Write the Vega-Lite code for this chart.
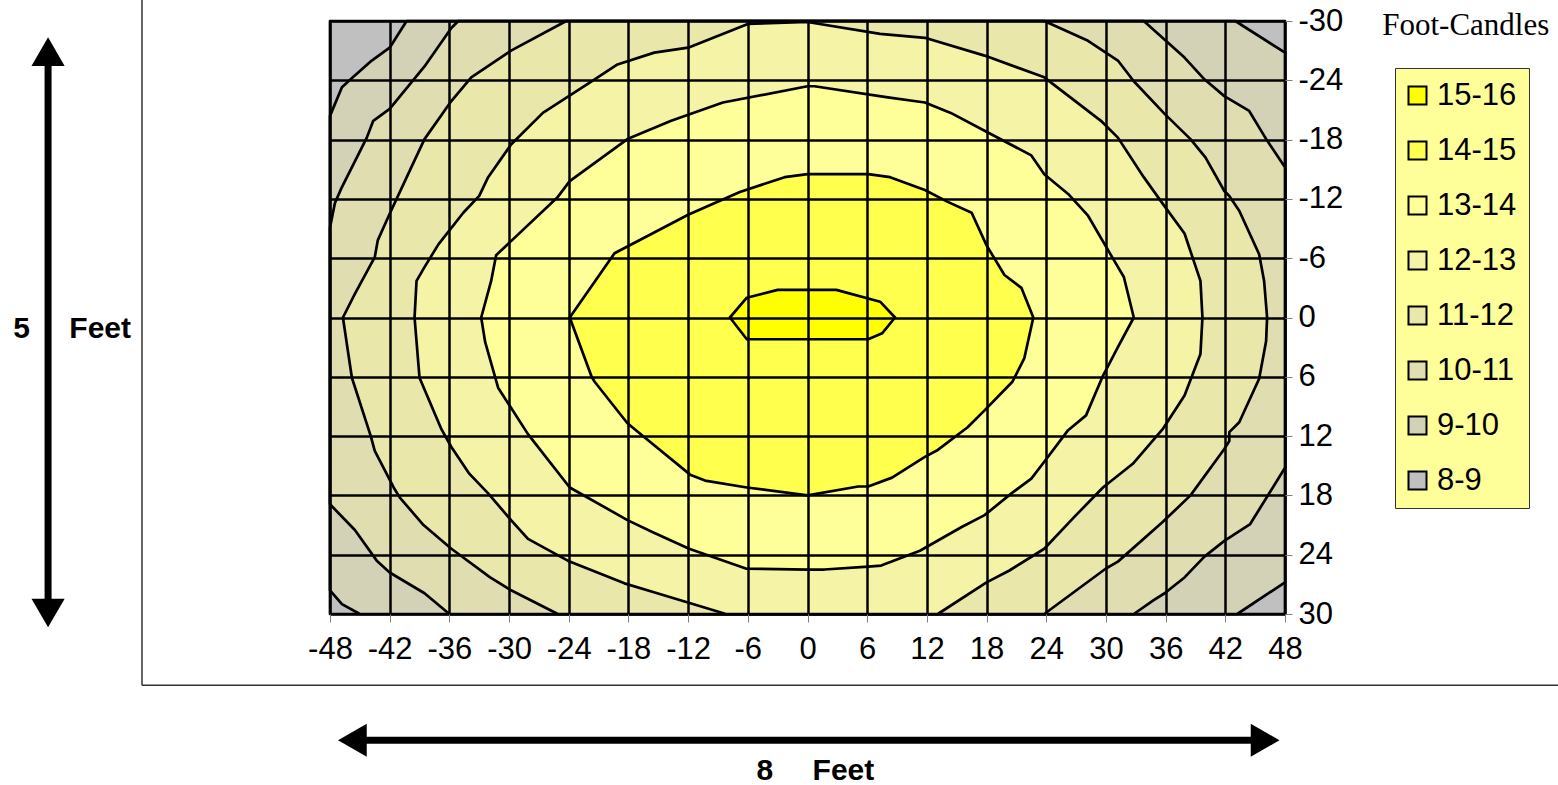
{
  "$schema": "https://vega.github.io/schema/vega-lite/v6.json",
  "width": 955,
  "height": 593,
  "autosize": {"type": "none"},
  "padding": {"left": 330, "top": 21, "right": 273, "bottom": 171},
  "background": "white",
  "config": {"view": {"stroke": null}},
  "datasets": {
    "contours": [
      {"band": "8-9", "o": 1, "x": -48, "y": -30}, {"band": "8-9", "o": 2, "x": 48, "y": -30}, {"band": "8-9", "o": 3, "x": 48, "y": 30}, {"band": "8-9", "o": 4, "x": -48, "y": 30},

      {"band": "9-10", "o": 1, "x": -40.3, "y": -30}, {"band": "9-10", "o": 2, "x": 43.0, "y": -30}, {"band": "9-10", "o": 3, "x": 48, "y": -26.8}, {"band": "9-10", "o": 4, "x": 48, "y": 26.8}, {"band": "9-10", "o": 5, "x": 43.2, "y": 30}, {"band": "9-10", "o": 6, "x": -45, "y": 30}, {"band": "9-10", "o": 7, "x": -46.8, "y": 29.0}, {"band": "9-10", "o": 8, "x": -48, "y": 27.6}, {"band": "9-10", "o": 9, "x": -48, "y": -20.4}, {"band": "9-10", "o": 10, "x": -46.8, "y": -23.3}, {"band": "9-10", "o": 11, "x": -45.7, "y": -24.3}, {"band": "9-10", "o": 12, "x": -43.8, "y": -26.0}, {"band": "9-10", "o": 13, "x": -42.0, "y": -27.3},

      {"band": "10-11", "o": 1, "x": -35.1, "y": -30}, {"band": "10-11", "o": 2, "x": 33.8, "y": -30}, {"band": "10-11", "o": 3, "x": 37.9, "y": -26.3}, {"band": "10-11", "o": 4, "x": 39.9, "y": -24.1}, {"band": "10-11", "o": 5, "x": 41.9, "y": -22.4}, {"band": "10-11", "o": 6, "x": 44.4, "y": -20.9}, {"band": "10-11", "o": 7, "x": 46.2, "y": -17.9}, {"band": "10-11", "o": 8, "x": 48, "y": -15.2}, {"band": "10-11", "o": 9, "x": 48, "y": 15.2}, {"band": "10-11", "o": 10, "x": 46.4, "y": 17.8}, {"band": "10-11", "o": 11, "x": 44.5, "y": 20.9}, {"band": "10-11", "o": 12, "x": 41.9, "y": 22.6}, {"band": "10-11", "o": 13, "x": 39.9, "y": 24.2}, {"band": "10-11", "o": 14, "x": 37.9, "y": 26.3}, {"band": "10-11", "o": 15, "x": 35.9, "y": 27.9}, {"band": "10-11", "o": 16, "x": 34.8, "y": 28.6}, {"band": "10-11", "o": 17, "x": 32.8, "y": 30}, {"band": "10-11", "o": 18, "x": -36, "y": 30}, {"band": "10-11", "o": 19, "x": -38.5, "y": 27.9}, {"band": "10-11", "o": 20, "x": -42.0, "y": 25.8}, {"band": "10-11", "o": 21, "x": -43.3, "y": 24.6}, {"band": "10-11", "o": 22, "x": -45.5, "y": 21.5}, {"band": "10-11", "o": 23, "x": -48, "y": 18.9}, {"band": "10-11", "o": 24, "x": -48, "y": -9.1}, {"band": "10-11", "o": 25, "x": -47.5, "y": -11.6}, {"band": "10-11", "o": 26, "x": -46.8, "y": -13.2}, {"band": "10-11", "o": 27, "x": -44.3, "y": -18.2}, {"band": "10-11", "o": 28, "x": -43.65, "y": -19.9}, {"band": "10-11", "o": 29, "x": -42.0, "y": -21.1}, {"band": "10-11", "o": 30, "x": -38.5, "y": -25.4}, {"band": "10-11", "o": 31, "x": -35.8, "y": -29.3},

      {"band": "11-12", "o": 1, "x": -24.25, "y": -30}, {"band": "11-12", "o": 2, "x": 23.8, "y": -30}, {"band": "11-12", "o": 3, "x": 28.2, "y": -28.0}, {"band": "11-12", "o": 4, "x": 31.2, "y": -26.0}, {"band": "11-12", "o": 5, "x": 32.8, "y": -23.9}, {"band": "11-12", "o": 6, "x": 35.9, "y": -20.6}, {"band": "11-12", "o": 7, "x": 38.5, "y": -18.05}, {"band": "11-12", "o": 8, "x": 40.0, "y": -16.2}, {"band": "11-12", "o": 9, "x": 41.9, "y": -12.8}, {"band": "11-12", "o": 10, "x": 42.4, "y": -12.3}, {"band": "11-12", "o": 11, "x": 43.4, "y": -10.8}, {"band": "11-12", "o": 12, "x": 45.4, "y": -6.4}, {"band": "11-12", "o": 13, "x": 45.9, "y": -3.7}, {"band": "11-12", "o": 14, "x": 46.2, "y": 0}, {"band": "11-12", "o": 15, "x": 46.1, "y": 2.4}, {"band": "11-12", "o": 16, "x": 45.4, "y": 6.2}, {"band": "11-12", "o": 17, "x": 43.4, "y": 10.6}, {"band": "11-12", "o": 18, "x": 42.4, "y": 11.6}, {"band": "11-12", "o": 19, "x": 42.4, "y": 12.5}, {"band": "11-12", "o": 20, "x": 41.9, "y": 13.3}, {"band": "11-12", "o": 21, "x": 38.5, "y": 18.0}, {"band": "11-12", "o": 22, "x": 35.7, "y": 20.7}, {"band": "11-12", "o": 23, "x": 31.2, "y": 24.7}, {"band": "11-12", "o": 24, "x": 30.0, "y": 25.4}, {"band": "11-12", "o": 25, "x": 23.8, "y": 30}, {"band": "11-12", "o": 26, "x": -25.1, "y": 30}, {"band": "11-12", "o": 27, "x": -29.8, "y": 27.6}, {"band": "11-12", "o": 28, "x": -31.9, "y": 26.3}, {"band": "11-12", "o": 29, "x": -35.8, "y": 23.4}, {"band": "11-12", "o": 30, "x": -38.6, "y": 21.0}, {"band": "11-12", "o": 31, "x": -41.0, "y": 18.2}, {"band": "11-12", "o": 32, "x": -41.6, "y": 17.2}, {"band": "11-12", "o": 33, "x": -43.5, "y": 13.5}, {"band": "11-12", "o": 34, "x": -43.9, "y": 12.0}, {"band": "11-12", "o": 35, "x": -45.8, "y": 6.1}, {"band": "11-12", "o": 36, "x": -46.7, "y": 0}, {"band": "11-12", "o": 37, "x": -45.5, "y": -2.4}, {"band": "11-12", "o": 38, "x": -43.5, "y": -6.1}, {"band": "11-12", "o": 39, "x": -43.2, "y": -7.8}, {"band": "11-12", "o": 40, "x": -42.0, "y": -10.5}, {"band": "11-12", "o": 41, "x": -39.5, "y": -15.9}, {"band": "11-12", "o": 42, "x": -38.5, "y": -18.05}, {"band": "11-12", "o": 43, "x": -35.8, "y": -21.9}, {"band": "11-12", "o": 44, "x": -33.8, "y": -24.3}, {"band": "11-12", "o": 45, "x": -29.8, "y": -27.0},

      {"band": "12-13", "o": 1, "x": 0, "y": -29.9}, {"band": "12-13", "o": 2, "x": 7.3, "y": -28.7}, {"band": "12-13", "o": 3, "x": 11.8, "y": -28.3}, {"band": "12-13", "o": 4, "x": 17.8, "y": -26.5}, {"band": "12-13", "o": 5, "x": 23.8, "y": -24.3}, {"band": "12-13", "o": 6, "x": 29.5, "y": -19.9}, {"band": "12-13", "o": 7, "x": 31.2, "y": -18.2}, {"band": "12-13", "o": 8, "x": 33.8, "y": -14.2}, {"band": "12-13", "o": 9, "x": 35.5, "y": -11.8}, {"band": "12-13", "o": 10, "x": 37.9, "y": -8.5}, {"band": "12-13", "o": 11, "x": 39.5, "y": -3.7}, {"band": "12-13", "o": 12, "x": 39.7, "y": 0}, {"band": "12-13", "o": 13, "x": 39.5, "y": 3.7}, {"band": "12-13", "o": 14, "x": 37.9, "y": 7.9}, {"band": "12-13", "o": 15, "x": 35.7, "y": 11.3}, {"band": "12-13", "o": 16, "x": 32.7, "y": 14.8}, {"band": "12-13", "o": 17, "x": 29.7, "y": 17.2}, {"band": "12-13", "o": 18, "x": 26.8, "y": 20.2}, {"band": "12-13", "o": 19, "x": 23.8, "y": 23.4}, {"band": "12-13", "o": 20, "x": 20.3, "y": 25.6}, {"band": "12-13", "o": 21, "x": 18.0, "y": 26.8}, {"band": "12-13", "o": 22, "x": 13.1, "y": 30}, {"band": "12-13", "o": 23, "x": -8.2, "y": 30}, {"band": "12-13", "o": 24, "x": -15.1, "y": 27.9}, {"band": "12-13", "o": 25, "x": -18.4, "y": 26.9}, {"band": "12-13", "o": 26, "x": -24.1, "y": 24.6}, {"band": "12-13", "o": 27, "x": -28.1, "y": 22.4}, {"band": "12-13", "o": 28, "x": -29.8, "y": 20.5}, {"band": "12-13", "o": 29, "x": -32.1, "y": 17.8}, {"band": "12-13", "o": 30, "x": -34.0, "y": 15.8}, {"band": "12-13", "o": 31, "x": -35.8, "y": 13.1}, {"band": "12-13", "o": 32, "x": -36.8, "y": 11.3}, {"band": "12-13", "o": 33, "x": -39.0, "y": 6.1}, {"band": "12-13", "o": 34, "x": -39.5, "y": 0}, {"band": "12-13", "o": 35, "x": -39.3, "y": -3.7}, {"band": "12-13", "o": 36, "x": -38.5, "y": -5.1}, {"band": "12-13", "o": 37, "x": -37.1, "y": -7.4}, {"band": "12-13", "o": 38, "x": -34.6, "y": -10.6}, {"band": "12-13", "o": 39, "x": -33.0, "y": -12.3}, {"band": "12-13", "o": 40, "x": -32.1, "y": -14.2}, {"band": "12-13", "o": 41, "x": -29.8, "y": -17.5}, {"band": "12-13", "o": 42, "x": -26.6, "y": -20.7}, {"band": "12-13", "o": 43, "x": -21.7, "y": -23.9}, {"band": "12-13", "o": 44, "x": -19.1, "y": -25.6}, {"band": "12-13", "o": 45, "x": -15.4, "y": -26.8}, {"band": "12-13", "o": 46, "x": -12.0, "y": -27.3}, {"band": "12-13", "o": 47, "x": -6.0, "y": -29.7},

      {"band": "13-14", "o": 1, "x": 0, "y": -23.4}, {"band": "13-14", "o": 2, "x": 0.7, "y": -23.4}, {"band": "13-14", "o": 3, "x": 7.9, "y": -22.3}, {"band": "13-14", "o": 4, "x": 11.8, "y": -21.75}, {"band": "13-14", "o": 5, "x": 14.4, "y": -20.7}, {"band": "13-14", "o": 6, "x": 17.8, "y": -18.9}, {"band": "13-14", "o": 7, "x": 22.5, "y": -16.4}, {"band": "13-14", "o": 8, "x": 23.8, "y": -14.5}, {"band": "13-14", "o": 9, "x": 26.2, "y": -12.5}, {"band": "13-14", "o": 10, "x": 28.2, "y": -10.3}, {"band": "13-14", "o": 11, "x": 30.8, "y": -5.8}, {"band": "13-14", "o": 12, "x": 31.8, "y": -4.1}, {"band": "13-14", "o": 13, "x": 32.8, "y": 0}, {"band": "13-14", "o": 14, "x": 31.2, "y": 3.0}, {"band": "13-14", "o": 15, "x": 29.7, "y": 5.9}, {"band": "13-14", "o": 16, "x": 28.0, "y": 9.9}, {"band": "13-14", "o": 17, "x": 26.2, "y": 11.4}, {"band": "13-14", "o": 18, "x": 23.8, "y": 14.6}, {"band": "13-14", "o": 19, "x": 22.5, "y": 16.3}, {"band": "13-14", "o": 20, "x": 20.5, "y": 17.8}, {"band": "13-14", "o": 21, "x": 17.8, "y": 20.0}, {"band": "13-14", "o": 22, "x": 15.5, "y": 21.2}, {"band": "13-14", "o": 23, "x": 11.3, "y": 23.6}, {"band": "13-14", "o": 24, "x": 7.4, "y": 25.1}, {"band": "13-14", "o": 25, "x": 6.1, "y": 25.2}, {"band": "13-14", "o": 26, "x": 1.7, "y": 25.5}, {"band": "13-14", "o": 27, "x": 0, "y": 25.5}, {"band": "13-14", "o": 28, "x": -6.2, "y": 25.4}, {"band": "13-14", "o": 29, "x": -11.9, "y": 23.4}, {"band": "13-14", "o": 30, "x": -15.6, "y": 21.7}, {"band": "13-14", "o": 31, "x": -18.1, "y": 20.5}, {"band": "13-14", "o": 32, "x": -23.9, "y": 17.2}, {"band": "13-14", "o": 33, "x": -28.1, "y": 11.8}, {"band": "13-14", "o": 34, "x": -31.1, "y": 7.1}, {"band": "13-14", "o": 35, "x": -32.4, "y": 2.5}, {"band": "13-14", "o": 36, "x": -32.8, "y": 0}, {"band": "13-14", "o": 37, "x": -31.8, "y": -3.7}, {"band": "13-14", "o": 38, "x": -31.3, "y": -6.3}, {"band": "13-14", "o": 39, "x": -25.1, "y": -12.2}, {"band": "13-14", "o": 40, "x": -23.9, "y": -13.8}, {"band": "13-14", "o": 41, "x": -18.1, "y": -18.05}, {"band": "13-14", "o": 42, "x": -13.7, "y": -19.9}, {"band": "13-14", "o": 43, "x": -8.5, "y": -21.75},

      {"band": "14-15", "o": 1, "x": 0, "y": -14.5}, {"band": "14-15", "o": 2, "x": 6.1, "y": -14.5}, {"band": "14-15", "o": 3, "x": 8.3, "y": -14.2}, {"band": "14-15", "o": 4, "x": 11.8, "y": -12.9}, {"band": "14-15", "o": 5, "x": 14.1, "y": -11.7}, {"band": "14-15", "o": 6, "x": 16.5, "y": -10.6}, {"band": "14-15", "o": 7, "x": 18.0, "y": -7.3}, {"band": "14-15", "o": 8, "x": 19.8, "y": -4.3}, {"band": "14-15", "o": 9, "x": 21.5, "y": -3.0}, {"band": "14-15", "o": 10, "x": 22.7, "y": 0}, {"band": "14-15", "o": 11, "x": 21.8, "y": 4.1}, {"band": "14-15", "o": 12, "x": 20.6, "y": 6.5}, {"band": "14-15", "o": 13, "x": 17.8, "y": 9.4}, {"band": "14-15", "o": 14, "x": 16.1, "y": 11.1}, {"band": "14-15", "o": 15, "x": 13.1, "y": 13.4}, {"band": "14-15", "o": 16, "x": 11.8, "y": 14.1}, {"band": "14-15", "o": 17, "x": 8.5, "y": 16.2}, {"band": "14-15", "o": 18, "x": 6.1, "y": 17.1}, {"band": "14-15", "o": 19, "x": 5.1, "y": 17.1}, {"band": "14-15", "o": 20, "x": 0, "y": 18.0}, {"band": "14-15", "o": 21, "x": -6.1, "y": 17.2}, {"band": "14-15", "o": 22, "x": -10.3, "y": 16.5}, {"band": "14-15", "o": 23, "x": -11.8, "y": 15.9}, {"band": "14-15", "o": 24, "x": -16.3, "y": 12.2}, {"band": "14-15", "o": 25, "x": -18.1, "y": 10.7}, {"band": "14-15", "o": 26, "x": -21.4, "y": 6.5}, {"band": "14-15", "o": 27, "x": -21.7, "y": 6.0}, {"band": "14-15", "o": 28, "x": -23.9, "y": 0}, {"band": "14-15", "o": 29, "x": -19.4, "y": -6.5}, {"band": "14-15", "o": 30, "x": -12.0, "y": -10.4}, {"band": "14-15", "o": 31, "x": -6.8, "y": -12.7}, {"band": "14-15", "o": 32, "x": -2.3, "y": -14.2},

      {"band": "15-16", "o": 1, "x": -7.8, "y": 0}, {"band": "15-16", "o": 2, "x": -6.1, "y": -2.0}, {"band": "15-16", "o": 3, "x": -3.0, "y": -2.8}, {"band": "15-16", "o": 4, "x": 2.9, "y": -2.8}, {"band": "15-16", "o": 5, "x": 7.3, "y": -1.6}, {"band": "15-16", "o": 6, "x": 8.8, "y": 0}, {"band": "15-16", "o": 7, "x": 7.5, "y": 1.6}, {"band": "15-16", "o": 8, "x": 6.1, "y": 2.2}, {"band": "15-16", "o": 9, "x": -6.1, "y": 2.2}
    ],
    "frame": [
      {"x": -66.9, "y": -33, "x2": -66.9, "y2": 37.2},
      {"x": -66.9, "y": 37.2, "x2": 76, "y2": 37.2}
    ],
    "shafts": [
      {"x": -76.34, "y": -26.0, "x2": -76.34, "y2": 29.2},
      {"x": -45.0, "y": 42.77, "x2": 45.0, "y2": 42.77}
    ],
    "heads": [
      {"x": -76.34, "y": -26.9, "dir": "up"},
      {"x": -76.34, "y": 29.9, "dir": "down"},
      {"x": -45.75, "y": 42.77, "dir": "left"},
      {"x": 46.0, "y": 42.77, "dir": "right"}
    ],
    "boldText": [
      {"x": -79.0, "y": 2.09, "label": "5"},
      {"x": -71.1, "y": 2.09, "label": "Feet"},
      {"x": -4.28, "y": 46.75, "label": "8"},
      {"x": 3.61, "y": 46.75, "label": "Feet"}
    ],
    "titleText": [
      {"x": 66.17, "y": -28.58, "label": "Foot-Candles"}
    ]
  },
  "encoding": {
    "x": {
      "field": "x", "type": "quantitative",
      "scale": {"domain": [-48, 48], "nice": false, "zero": false},
      "axis": {
        "values": [-48, -42, -36, -30, -24, -18, -12, -6, 0, 6, 12, 18, 24, 30, 36, 42, 48],
        "labelExpr": "'' + datum.value",
        "title": null, "grid": true, "gridColor": "black", "gridWidth": 2.5, "gridOpacity": 1,
        "domain": false, "tickColor": "#808080", "tickSize": 8, "tickWidth": 1,
        "labelFont": "Liberation Sans", "labelFontSize": 31, "labelColor": "black",
        "labelPadding": 12, "labelFlush": false, "labelOverlap": false, "zindex": 1
      }
    },
    "y": {
      "field": "y", "type": "quantitative",
      "scale": {"domain": [-30, 30], "nice": false, "zero": false, "reverse": true},
      "axis": {
        "orient": "right",
        "values": [-30, -24, -18, -12, -6, 0, 6, 12, 18, 24, 30],
        "labelExpr": "'' + datum.value",
        "title": null, "grid": true, "gridColor": "black", "gridWidth": 2.5, "gridOpacity": 1,
        "domain": false, "tickColor": "#808080", "tickSize": 7, "tickWidth": 1,
        "labelFont": "Liberation Sans", "labelFontSize": 31, "labelColor": "black",
        "labelPadding": 6, "labelFlush": false, "labelOverlap": false, "zindex": 1
      }
    }
  },
  "layer": [
    {
      "data": {"name": "contours"},
      "mark": {"type": "line", "interpolate": "linear-closed", "stroke": "black", "strokeWidth": 2.7, "strokeJoin": "round", "fillOpacity": 1},
      "encoding": {
        "order": {"field": "o", "type": "quantitative"},
        "fill": {
          "field": "band", "type": "nominal",
          "scale": {
            "domain": ["15-16", "14-15", "13-14", "12-13", "11-12", "10-11", "9-10", "8-9"],
            "range": ["#FFFF00", "#FFFF4D", "#FFFF9A", "#F4F3A6", "#E9E7AA", "#E0DEB0", "#D3D2B6", "#C0C0C0"]
          },
          "legend": {
            "orient": "none", "legendX": 1065, "legendY": 47, "title": null,
            "symbolType": "square", "symbolSize": 324, "symbolStrokeColor": "black", "symbolStrokeWidth": 2,
            "symbolOpacity": 1, "symbolOffset": -5,
            "labelFont": "Liberation Sans", "labelFontSize": 31, "labelColor": "black", "labelOffset": 4,
            "rowPadding": 23, "padding": 12, "fillColor": "#FFFF99", "strokeColor": "#333333", "cornerRadius": 0
          }
        }
      }
    },
    {
      "data": {"name": "frame"},
      "mark": {"type": "rule", "color": "#333333", "strokeWidth": 1.5},
      "encoding": {"x2": {"field": "x2"}, "y2": {"field": "y2"}}
    },
    {
      "data": {"name": "shafts"},
      "mark": {"type": "rule", "color": "black", "strokeWidth": 7},
      "encoding": {"x2": {"field": "x2"}, "y2": {"field": "y2"}}
    },
    {
      "data": {"name": "heads"},
      "mark": {"type": "point", "filled": true, "color": "black", "opacity": 1, "size": 1100},
      "encoding": {
        "shape": {
          "field": "dir", "type": "nominal",
          "scale": {"domain": ["up", "down", "left", "right"], "range": ["triangle-up", "triangle-down", "triangle-left", "triangle-right"]},
          "legend": null
        }
      }
    },
    {
      "data": {"name": "boldText"},
      "mark": {"type": "text", "font": "Liberation Sans", "fontWeight": "bold", "fontSize": 30, "color": "black", "align": "center", "baseline": "alphabetic"},
      "encoding": {"text": {"field": "label"}}
    },
    {
      "data": {"name": "titleText"},
      "mark": {"type": "text", "font": "Liberation Serif", "fontSize": 31, "color": "black", "align": "center", "baseline": "alphabetic"},
      "encoding": {"text": {"field": "label"}}
    }
  ]
}
